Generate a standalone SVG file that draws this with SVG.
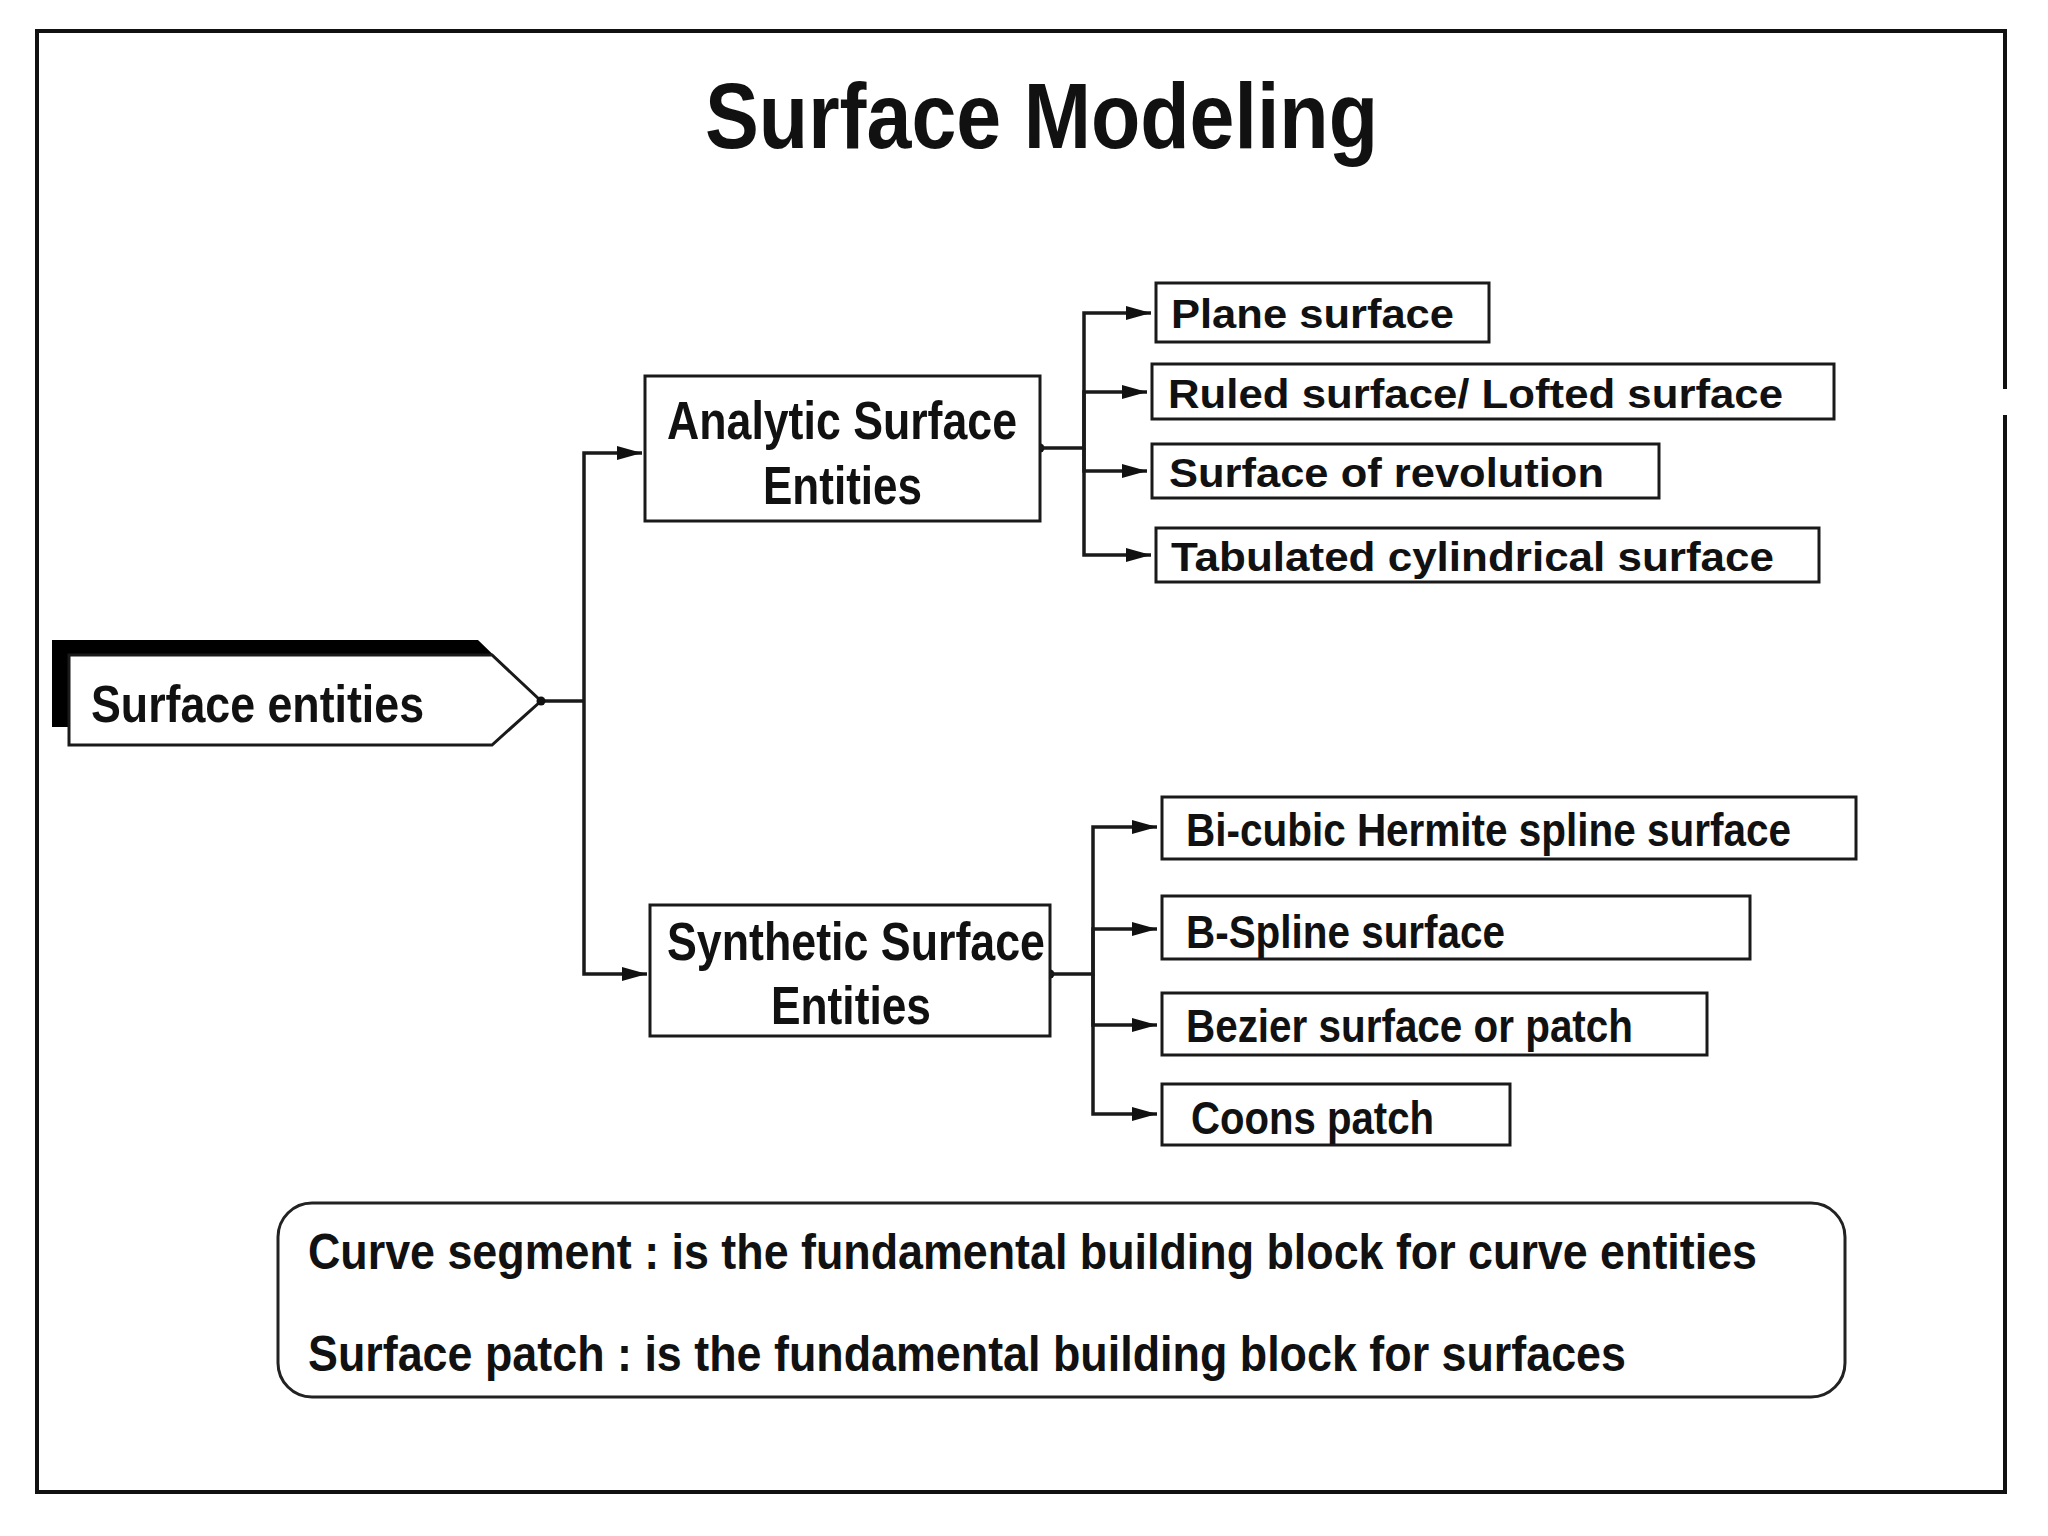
<svg xmlns="http://www.w3.org/2000/svg" width="2048" height="1536" viewBox="0 0 2048 1536">
<style>
  .t { font-family: "Liberation Sans", Arial, sans-serif; font-weight: bold; fill: #111; }
  .box { fill: #fff; stroke: #1a1a1a; stroke-width: 3; }
  .con { fill: none; stroke: #1a1a1a; stroke-width: 3.5; }
</style>
<defs>
  <marker id="arr" markerUnits="userSpaceOnUse" viewBox="0 0 25 14" markerWidth="25" markerHeight="14" refX="25" refY="7" orient="auto">
    <path d="M0,0 L25,7 L0,14 z" fill="#111"/>
  </marker>
</defs>
<rect width="2048" height="1536" fill="#fff"/>
<g id="frame">
  <path d="M2005,389 V31 H37 V1492 H2005 V415" fill="none" stroke="#111" stroke-width="4"/>
</g>
<g id="title">
  <text class="t" x="705" y="148" font-size="92" textLength="673" lengthAdjust="spacingAndGlyphs">Surface Modeling</text>
</g>
<g id="connectors">
  <path class="con" d="M541,701 H584"/>
  <path class="con" d="M584,701 V453 H642" marker-end="url(#arr)"/>
  <path class="con" d="M584,701 V974 H647" marker-end="url(#arr)"/>
  <circle cx="1040" cy="448" r="4.5" fill="#111"/>
  <path class="con" d="M1040,448 H1084 V313 H1151" marker-end="url(#arr)"/>
  <path class="con" d="M1084,448 V392 H1147" marker-end="url(#arr)"/>
  <path class="con" d="M1084,448 V471 H1147" marker-end="url(#arr)"/>
  <path class="con" d="M1084,448 V555 H1151" marker-end="url(#arr)"/>
  <circle cx="1050" cy="974" r="4.5" fill="#111"/>
  <path class="con" d="M1050,974 H1093 V827 H1157" marker-end="url(#arr)"/>
  <path class="con" d="M1093,974 V929 H1157" marker-end="url(#arr)"/>
  <path class="con" d="M1093,974 V1025 H1157" marker-end="url(#arr)"/>
  <path class="con" d="M1093,974 V1114 H1157" marker-end="url(#arr)"/>
</g>
<g id="surface-entities">
  <polygon points="52,640 478,640 541,701 69,701 69,727 52,727" fill="#000"/>
  <polygon class="box" points="69,655 492,655 541,701 492,745 69,745"/>
  <circle cx="541" cy="701" r="4.5" fill="#111"/>
  <text class="t" x="91" y="722" font-size="52" textLength="333" lengthAdjust="spacingAndGlyphs">Surface entities</text>
</g>
<g id="analytic">
  <rect class="box" x="645" y="376" width="395" height="145"/>
  <text class="t" x="667" y="439" font-size="54" textLength="350" lengthAdjust="spacingAndGlyphs">Analytic Surface</text>
  <text class="t" x="763" y="504" font-size="54" textLength="159" lengthAdjust="spacingAndGlyphs">Entities</text>
</g>
<g id="synthetic">
  <rect class="box" x="650" y="905" width="400" height="131"/>
  <text class="t" x="667" y="960" font-size="54" textLength="378" lengthAdjust="spacingAndGlyphs">Synthetic Surface</text>
  <text class="t" x="771" y="1024" font-size="54" textLength="160" lengthAdjust="spacingAndGlyphs">Entities</text>
</g>
<g id="plane">
  <rect class="box" x="1156" y="283" width="333" height="59"/>
  <text class="t" x="1171" y="328" font-size="40" textLength="283" lengthAdjust="spacingAndGlyphs">Plane surface</text>
</g>
<g id="ruled">
  <rect class="box" x="1152" y="364" width="682" height="55"/>
  <text class="t" x="1168" y="408" font-size="40" textLength="615" lengthAdjust="spacingAndGlyphs">Ruled surface/ Lofted surface</text>
</g>
<g id="revolution">
  <rect class="box" x="1152" y="444" width="507" height="54"/>
  <text class="t" x="1169" y="487" font-size="40" textLength="435" lengthAdjust="spacingAndGlyphs">Surface of revolution</text>
</g>
<g id="tabulated">
  <rect class="box" x="1156" y="528" width="663" height="54"/>
  <text class="t" x="1171" y="571" font-size="40" textLength="603" lengthAdjust="spacingAndGlyphs">Tabulated cylindrical surface</text>
</g>
<g id="bicubic">
  <rect class="box" x="1162" y="797" width="694" height="62"/>
  <text class="t" x="1186" y="846" font-size="46" textLength="605" lengthAdjust="spacingAndGlyphs">Bi-cubic Hermite spline surface</text>
</g>
<g id="bspline">
  <rect class="box" x="1162" y="896" width="588" height="63"/>
  <text class="t" x="1186" y="948" font-size="46" textLength="319" lengthAdjust="spacingAndGlyphs">B-Spline surface</text>
</g>
<g id="bezier">
  <rect class="box" x="1162" y="993" width="545" height="62"/>
  <text class="t" x="1186" y="1042" font-size="46" textLength="447" lengthAdjust="spacingAndGlyphs">Bezier surface or patch</text>
</g>
<g id="coons">
  <rect class="box" x="1162" y="1084" width="348" height="61"/>
  <text class="t" x="1191" y="1134" font-size="46" textLength="243" lengthAdjust="spacingAndGlyphs">Coons patch</text>
</g>
<g id="note">
  <rect x="278" y="1203" width="1567" height="194" rx="34" fill="#fff" stroke="#222" stroke-width="3"/>
  <text class="t" x="308" y="1269" font-size="50" textLength="1449" lengthAdjust="spacingAndGlyphs">Curve segment : is the fundamental building block for curve entities</text>
  <text class="t" x="308" y="1371" font-size="50" textLength="1318" lengthAdjust="spacingAndGlyphs">Surface patch : is the fundamental building block for surfaces</text>
</g>
</svg>
